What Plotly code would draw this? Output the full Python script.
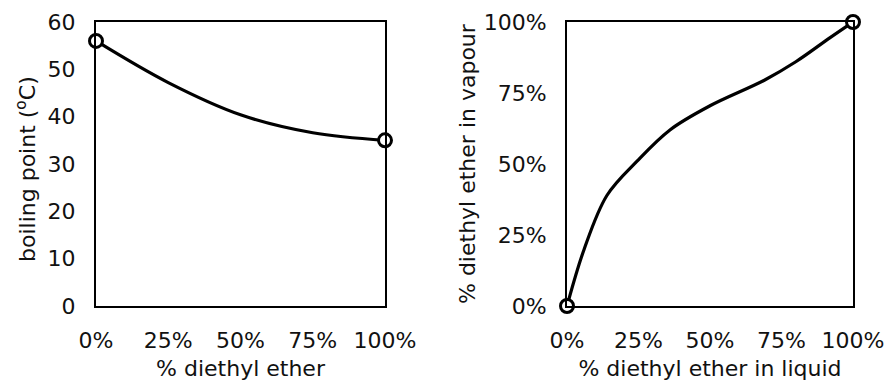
import plotly.graph_objects as go

# Left chart: boiling point vs composition
bp_x = [0.0, 0.25, 0.5, 0.75, 1.0]
bp_y = [56, 47.2, 40.4, 36.6, 35]
bp_end_x = [0.0, 1.0]
bp_end_y = [56, 35]

# Right chart: vapour vs liquid composition
vl_x = [0.0, 0.06, 0.14, 0.245, 0.36, 0.5, 0.69, 0.8, 0.92, 1.0]
vl_y = [0.0, 0.20, 0.39, 0.51, 0.62, 0.705, 0.795, 0.86, 0.945, 1.0]
vl_end_x = [0.0, 1.0]
vl_end_y = [0.0, 1.0]

FONT = "DejaVu Sans"
FS = 22

fig = go.Figure()
line = dict(color="black", width=3.2, shape="spline", smoothing=1.0)
mk = dict(size=13, color="white", line=dict(color="black", width=3))

fig.add_trace(go.Scatter(x=bp_x, y=bp_y, mode="lines", line=line, xaxis="x", yaxis="y", cliponaxis=False))
fig.add_trace(go.Scatter(x=bp_end_x, y=bp_end_y, mode="markers", marker=mk, xaxis="x", yaxis="y", cliponaxis=False))
fig.add_trace(go.Scatter(x=vl_x, y=vl_y, mode="lines", line=line, xaxis="x2", yaxis="y2", cliponaxis=False))
fig.add_trace(go.Scatter(x=vl_end_x, y=vl_end_y, mode="markers", marker=mk, xaxis="x2", yaxis="y2", cliponaxis=False))

ax = dict(showline=True, linecolor="black", linewidth=2, mirror=True, showgrid=False, zeroline=False,
          ticks="outside", ticklen=14, tickcolor="rgba(0,0,0,0)", automargin=False,
          tickfont=dict(family=FONT, size=FS, color="#111"))

L, R, T, B = 96, 36, 22, 75
W = 889 - L - R
H = 381 - T - B


def px_x(p):
    return (p - L) / W


def px_y(p):
    return (381 - B - p) / H


fig.update_layout(
    width=889, height=381, showlegend=False,
    paper_bgcolor="white", plot_bgcolor="white",
    margin=dict(l=L, r=R, t=T, b=B, autoexpand=False),
    font=dict(family=FONT, size=FS, color="#111"),
    xaxis=dict(ax, domain=[0, (385 - L) / W], range=[0, 1], tickvals=[0, 0.25, 0.5, 0.75, 1],
               tickformat=".0%", anchor="y",
               title=dict(text="% diethyl ether", standoff=8, font=dict(family=FONT, size=FS))),
    yaxis=dict(ax, domain=[0, 1], range=[0, 60], dtick=10, anchor="x"),
    xaxis2=dict(ax, domain=[(567 - L) / W, 1], range=[0, 1], tickvals=[0, 0.25, 0.5, 0.75, 1],
                tickformat=".0%", anchor="y2",
                title=dict(text="% diethyl ether in liquid", standoff=8, font=dict(family=FONT, size=FS))),
    yaxis2=dict(ax, domain=[0, 1], range=[0, 1], tickvals=[0, 0.25, 0.5, 0.75, 1], tickformat=".0%", anchor="x2"),
    annotations=[
        dict(text="boiling point (<sup>o</sup>C)", textangle=-90, xref="paper", yref="paper",
             x=px_x(26), y=px_y(169), xanchor="center", yanchor="middle", showarrow=False,
             font=dict(family=FONT, size=FS, color="#111")),
        dict(text="% diethyl ether in vapour", textangle=-90, xref="paper", yref="paper",
             x=px_x(467), y=px_y(164), xanchor="center", yanchor="middle", showarrow=False,
             font=dict(family=FONT, size=FS, color="#111")),
    ],
)

fig.write_html("out.html", config={"displayModeBar": False},
               post_script="document.body.style.margin='0';document.body.style.overflow='hidden';")
